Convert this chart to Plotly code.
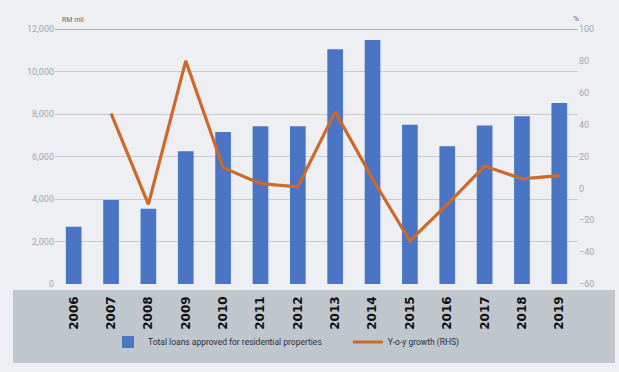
import plotly.graph_objects as go

years = [str(y) for y in range(2006, 2020)]
loans = [2700, 3950, 3540, 6250, 7150, 7420, 7420, 11050, 11480, 7490, 6480, 7460, 7890, 8520]
growth = [None, 47, -10, 80, 13, 3, 1, 48, 6, -33, -10, 14, 6, 8]
left_ticks = [0, 2000, 4000, 6000, 8000, 10000, 12000]
right_ticks = [-60, -40, -20, 0, 20, 40, 60, 80, 100]

W, H = 619, 372
L, R, T, B = 55, 41, 29, 88
pw, ph = W - L - R, H - T - B

def px(x):
    return (x - L) / pw

def py(y):
    return (H - B - y) / ph

fig = go.Figure()
fig.add_trace(go.Bar(
    x=years, y=loans, name="Total loans approved for residential properties" + "\u00a0" * 10,
    marker=dict(color="#4a74c4", line=dict(width=0)), yaxis="y"))
fig.add_trace(go.Scatter(
    x=years, y=growth, name="Y-o-y growth (RHS)", mode="lines",
    line=dict(color="#cc6a2c", width=3.2), yaxis="y2"))

fig.add_shape(type="rect", xref="paper", yref="paper",
              x0=px(13), x1=px(615), y0=py(363), y1=py(290),
              fillcolor="#bfc6cc", line=dict(width=0), layer="below")
fig.add_shape(type="line", xref="paper", yref="y", x0=0, x1=1, y0=12000, y1=12000,
              line=dict(color="#9a9ea2", width=1.5))

fig.add_annotation(text="RM mil", xref="paper", yref="paper", x=px(60), y=py(20),
                   xanchor="left", yanchor="middle", showarrow=False,
                   font=dict(size=7, color="#666a70"))
fig.add_annotation(text="%", xref="paper", yref="paper", x=px(576), y=py(19),
                   xanchor="center", yanchor="middle", showarrow=False,
                   font=dict(size=8, color="#666a70"))

fig.update_layout(
    width=W, height=H, margin=dict(l=L, r=R, t=T, b=B),
    paper_bgcolor="#edeff2", plot_bgcolor="#edeff2",
    bargap=0.58, showlegend=True,
    font=dict(family="Liberation Sans Narrow, Roboto, sans-serif"),
    legend=dict(orientation="h", x=px(108), y=py(342), xanchor="left", yanchor="middle",
                bgcolor="rgba(0,0,0,0)", font=dict(size=8.5, color="#2a2f3a"),
                itemwidth=30, tracegroupgap=0),
    xaxis=dict(type="category", tickangle=-90, ticks="", showgrid=False,
               showline=False, ticklabelstandoff=9,
               tickfont=dict(size=12, color="#111111", family="DejaVu Sans", weight="bold"),
               ),
    yaxis=dict(range=[0, 12000], tickvals=left_ticks, tickformat=",d",
               showgrid=True, gridcolor="#c9cbce", gridwidth=1, zeroline=False,
               tickfont=dict(size=9, color="#a3a7ad"), ticks="", showline=False),
    yaxis2=dict(range=[-60, 100], tickvals=right_ticks, overlaying="y", side="right",
                showgrid=False, zeroline=False,
                tickfont=dict(size=9, color="#a3a7ad"), ticks="", showline=False),
)

fig.write_html("out.html")
